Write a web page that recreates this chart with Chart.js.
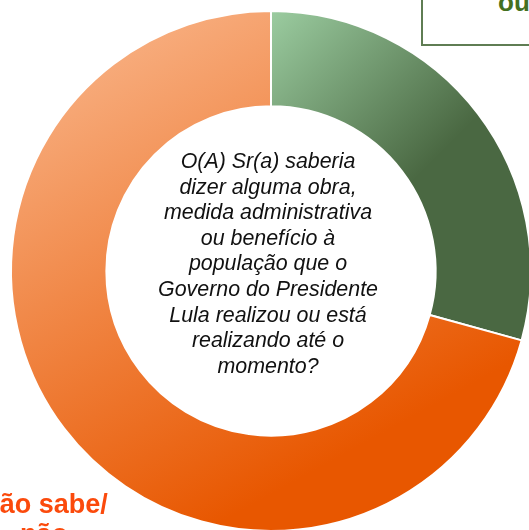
<!DOCTYPE html>
<html>
<head>
<meta charset="utf-8">
<script src="https://cdn.jsdelivr.net/npm/chart.js@4.4.1/dist/chart.umd.min.js"></script>
<style>
    html, body { margin: 0; padding: 0; background: #fff; overflow: hidden; width: 529px; height: 530px; }
    #wrap { position: relative; width: 529px; height: 530px; overflow: hidden; }
    #grafico { position: absolute; left: 0; top: 0; }
    .pergunta {
        position: absolute; left: 137px; top: 149px; width: 262px;
        font: italic 21.4px "Liberation Sans", Arial, sans-serif; line-height: 25.6px;
        text-align: center; color: #111;
    }
    .caixa-sim {
        position: absolute; left: 421px; top: -70px; width: 220px; height: 112px;
        border: 2px solid #5f7d53; background: #fff;
    }
    .rotulo-sim {
        position: absolute; left: 498px; top: -13px;
        font: bold 26px "Liberation Sans", Arial, sans-serif; color: #44701f; white-space: nowrap;
    }
    .rotulo-nao {
        position: absolute; left: -22px; top: 489px; width: 132px; text-align: center;
        font: bold 27px "Liberation Sans", Arial, sans-serif; line-height: 30px; color: #fb4a0c;
    }
</style>
</head>
<body>
<div id="wrap">
    <canvas id="grafico" width="542" height="542"></canvas>
    <div class="caixa-sim"></div>
    <div class="rotulo-sim">ou</div>
    <div class="rotulo-nao">Não sabe/<br>não</div>
    <div class="pergunta">O(A) Sr(a) saberia<br>dizer alguma obra,<br>medida administrativa<br>ou benefício à<br>população que o<br>Governo do Presidente<br>Lula realizou ou está<br>realizando até o<br>momento?</div>
</div>
<script>
// Dados da pesquisa (%)
const categorias = ['Sabe citar', 'Não sabe/ não lembra'];
const valores = [29.3, 70.7];

// Gradientes de cada fatia, calculados a partir do centro e raio
function corFatia(context) {
    const chart = context.chart;
    const area = chart.chartArea;
    if (!area) return '#ccc';
    const c = chart.ctx;
    const cx = (area.left + area.right) / 2;
    const cy = (area.top + area.bottom) / 2;
    const r = 260;
    let g;
    if (context.dataIndex === 0) {
        g = c.createLinearGradient(cx, cy - r, cx + 0.6 * r, cy - 0.4 * r);
        g.addColorStop(0, '#9bcca0');
        g.addColorStop(1, '#4a6842');
    } else {
        g = c.createLinearGradient(cx - 0.65 * r, cy - 0.8 * r, cx + 0.2 * r, cy + 0.75 * r);
        g.addColorStop(0, '#f7ab7b');
        g.addColorStop(1, '#e85700');
    }
    return g;
}

const ctx = document.getElementById('grafico').getContext('2d');
new Chart(ctx, {
    type: 'doughnut',
    data: {
        labels: categorias,
        datasets: [{
            data: valores,
            backgroundColor: corFatia,
            borderColor: '#ffffff',
            borderWidth: 2,
            radius: 260,
            cutout: 164
        }]
    },
    options: {
        responsive: false,
        animation: false,
        events: [],
        layout: { padding: 11 },
        plugins: {
            legend: { display: false },
            tooltip: { enabled: false }
        }
    }
});
</script>
</body>
</html>
